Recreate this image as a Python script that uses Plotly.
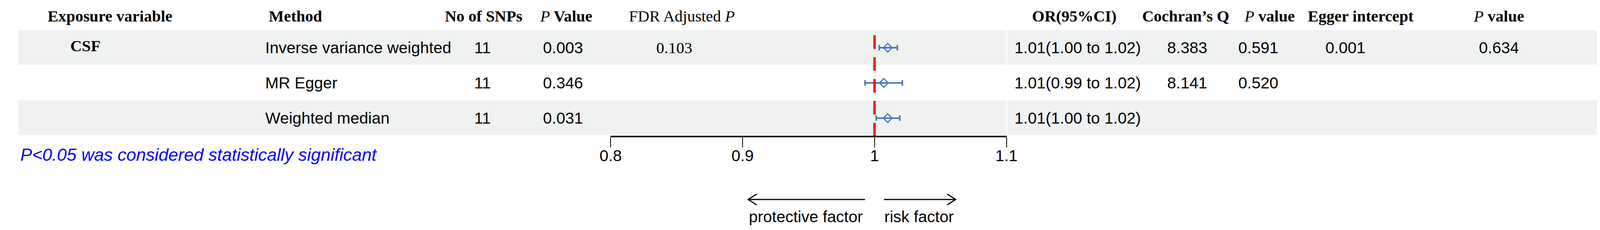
import plotly.graph_objects as go

W, H = 4190, 588

# ---- data ----
rows = [1, 2, 3]
exposure = ["CSF", "", ""]
methods = ["Inverse variance weighted", "MR Egger", "Weighted median"]
n_snps = ["11", "11", "11"]
p_values = ["0.003", "0.346", "0.031"]
fdr_p = ["0.103", "", ""]
or_val = [1.010, 1.007, 1.010]
ci_low = [1.0036, 0.9928, 1.0013]
ci_high = [1.0173, 1.0211, 1.0191]
or_text = ["1.01(1.00 to 1.02)", "1.01(0.99 to 1.02)", "1.01(1.00 to 1.02)"]
cochran_q = ["8.383", "8.141", ""]
q_pval = ["0.591", "0.520", ""]
egger_int = ["0.001", "", ""]
egger_p = ["0.634", "", ""]

tick_vals = [0.8, 0.9, 1, 1.1]
tick_text = ["0.8", "0.9", "1", "1.1"]

SERIF = "Liberation Serif, Times New Roman, serif"
SANS = "Liberation Sans, Arial, sans-serif"
BLUE = "#4A76B8"
BAND = "#EFF2F1"
FS = 41


def px(x):
    return x / W


def py(y):
    return 1 - y / H


def note(x, y, s, family=SANS, size=FS, color="black", xanchor="center", yref="paper"):
    return dict(x=px(x), y=py(y) if yref == "paper" else y, xref="paper", yref=yref,
                text=s, showarrow=False, xanchor=xanchor, yanchor="middle",
                font=dict(family=family, size=size, color=color))


annotations = []

# header row: (centre px, text, family)
headers = [
    (249, "<b>Exposure variable</b>", SERIF),
    (730, "<b>Method</b>", SERIF),
    (1218, "<b>No of SNPs</b>", SERIF),
    (1432, "<i>P</i><b> Value</b>", SERIF),
    (1733, "FDR Adjusted <i>P</i>", SERIF),
    (2751, "<b>OR(95%CI)</b>", SERIF),
    (3040, "<b>Cochran\u2019s Q</b>", SERIF),
    (3258, "<i>P</i><b> value</b>", SERIF),
    (3494, "<b>Egger intercept</b>", SERIF),
    (3852, "<i>P</i><b> value</b>", SERIF),
]
for x, s, fam in headers:
    annotations.append(note(x, 33, s, family=fam))

# table body
for i, r in enumerate(rows):
    if exposure[i]:
        annotations.append(note(185, r - 0.06, "<b>%s</b>" % exposure[i], family=SERIF, yref="y"))
    annotations.append(note(650, r, methods[i], xanchor="left", yref="y"))
    annotations.append(note(1216, r, n_snps[i], yref="y"))
    annotations.append(note(1425, r, p_values[i], yref="y"))
    if fdr_p[i]:
        annotations.append(note(1713, r, fdr_p[i], family=SERIF, yref="y"))
    annotations.append(note(2760, r, or_text[i], yref="y"))
    for x, col in [(3044, cochran_q), (3229, q_pval), (3455, egger_int), (3853, egger_p)]:
        if col[i]:
            annotations.append(note(x, r, col[i], yref="y"))

annotations.append(note(14, 387, "<i>P<0.05 was considered statistically significant</i>",
                        size=45, color="#0000FF", xanchor="left"))
annotations.append(note(2054, 546, "protective factor"))
annotations.append(note(2348, 546, "risk factor"))

# shading bands and arrows
shapes = []
for r in [1, 3]:
    for x0, x1 in [(11, 2574), (2577, 4172)]:
        shapes.append(dict(type="rect", xref="paper", yref="y", x0=px(x0), x1=px(x1),
                           y0=r - 0.5, y1=r + 0.48, fillcolor=BAND, line=dict(width=0),
                           layer="below"))

ay = 502
arrow_line = dict(color="black", width=3)
shapes.append(dict(type="line", xref="paper", yref="paper", x0=px(1905), x1=px(2208),
                   y0=py(ay), y1=py(ay), line=arrow_line))
shapes.append(dict(type="line", xref="paper", yref="paper", x0=px(2257), x1=px(2443),
                   y0=py(ay), y1=py(ay), line=arrow_line))
shapes.append(dict(type="path", xref="paper", yref="paper", line=arrow_line,
                   path="M%f,%f L%f,%f L%f,%f" % (px(1927), py(ay - 14), px(1905), py(ay),
                                                   px(1927), py(ay + 14))))
shapes.append(dict(type="path", xref="paper", yref="paper", line=arrow_line,
                   path="M%f,%f L%f,%f L%f,%f" % (px(2421), py(ay - 14), px(2443), py(ay),
                                                   px(2421), py(ay + 14))))

fig = go.Figure()

# estimates with 95% CI
fig.add_trace(go.Scatter(
    x=or_val, y=rows, mode="markers",
    marker=dict(symbol="diamond-open", size=17, color=BLUE, line=dict(width=3, color=BLUE)),
    error_x=dict(type="data", symmetric=False,
                 array=[h - o for h, o in zip(ci_high, or_val)],
                 arrayminus=[o - l for o, l in zip(or_val, ci_low)],
                 thickness=4, width=7, color=BLUE),
    cliponaxis=False, showlegend=False, hoverinfo="skip"))

# null line
fig.add_trace(go.Scatter(
    x=[1, 1], y=[0.645, 3.5], mode="lines",
    line=dict(color="#FF0000", width=6, dash="35px,21px"),
    showlegend=False, hoverinfo="skip"))

fig.update_layout(
    width=W, height=H,
    margin=dict(l=0, r=0, t=0, b=0),
    paper_bgcolor="white", plot_bgcolor="rgba(0,0,0,0)",
    xaxis=dict(domain=[px(1548), px(2575)], range=[0.8, 1.1],
               showgrid=False, zeroline=False, showline=True, linewidth=4, linecolor="black",
               ticks="outside", ticklen=26, tickwidth=2, tickcolor="black",
               ticklabelstandoff=-14,
               tickvals=tick_vals, ticktext=tick_text,
               tickfont=dict(family=SANS, size=FS, color="black")),
    yaxis=dict(domain=[py(339), py(69)], range=[3.5, 0.5], visible=False),
    annotations=annotations,
    shapes=shapes,
)

fig.write_html("out.html")
